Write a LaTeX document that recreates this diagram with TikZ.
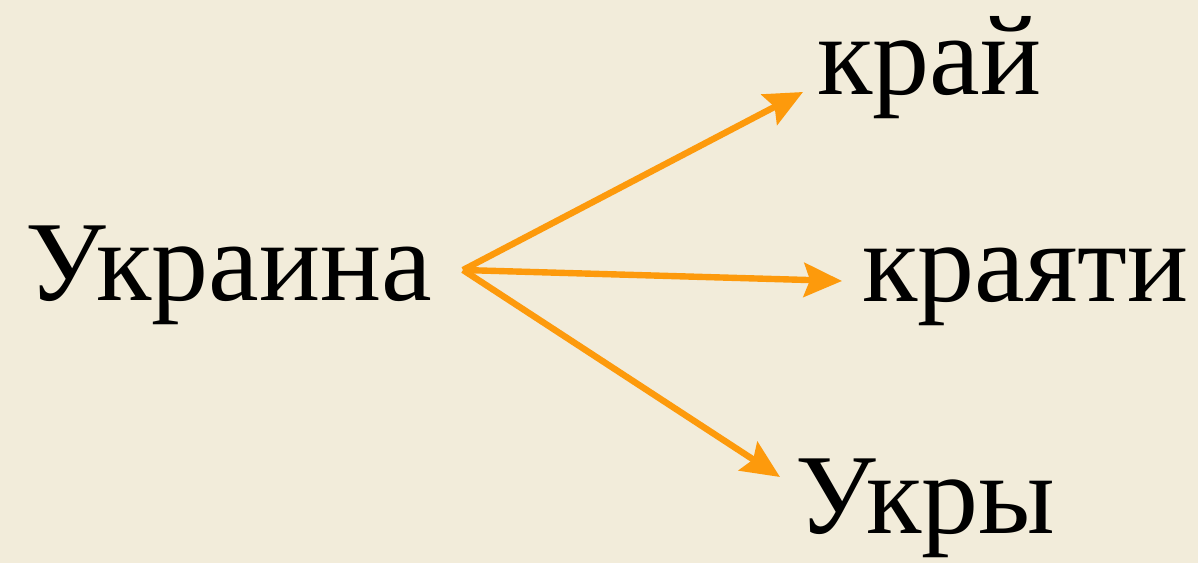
\documentclass[tikz,border=0pt]{standalone}
\usepackage{fontspec}
\setmainfont{Liberation Serif}
\usepackage{tikz}
\usetikzlibrary{arrows.meta, positioning, calc}
\definecolor{paper}{HTML}{F2ECDA}
\definecolor{accentorange}{HTML}{FD9A0C}

\begin{document}
\begin{tikzpicture}[
  x=0.5pt, y=0.5pt,
  word/.style={anchor=base west, inner sep=0pt, font=\fontsize{57}{62}\selectfont},
  arr/.style={-{Stealth[length=19pt, width=17pt, inset=3pt]}, line width=3.2pt, accentorange, shorten >=0pt},
]
% background
\fill[paper] (0,0) rectangle (1198,563);
\useasboundingbox (0,0) rectangle (1198,563);

\node[word] (ukraina) at (25,263) {Украина};
\node[word] (kraj) at (817,468) {край};
\node[word] (krayati) at (862,262) {краяти};
\node[word] (ukry) at (795,30) {Укры};

\coordinate (hub) at (463,293);
\coordinate (tipkraj) at ([shift={(-14,3)}]kraj.base west);
\coordinate (tipkrayati) at ([shift={(-20,20)}]krayati.base west);
\coordinate (tipukry) at ([shift={(-15,56)}]ukry.base west);

\draw[arr] (hub) -- (tipkraj);
\draw[arr] (hub) -- (tipkrayati);
\draw[arr] (hub) -- (tipukry);
\end{tikzpicture}
\end{document}
